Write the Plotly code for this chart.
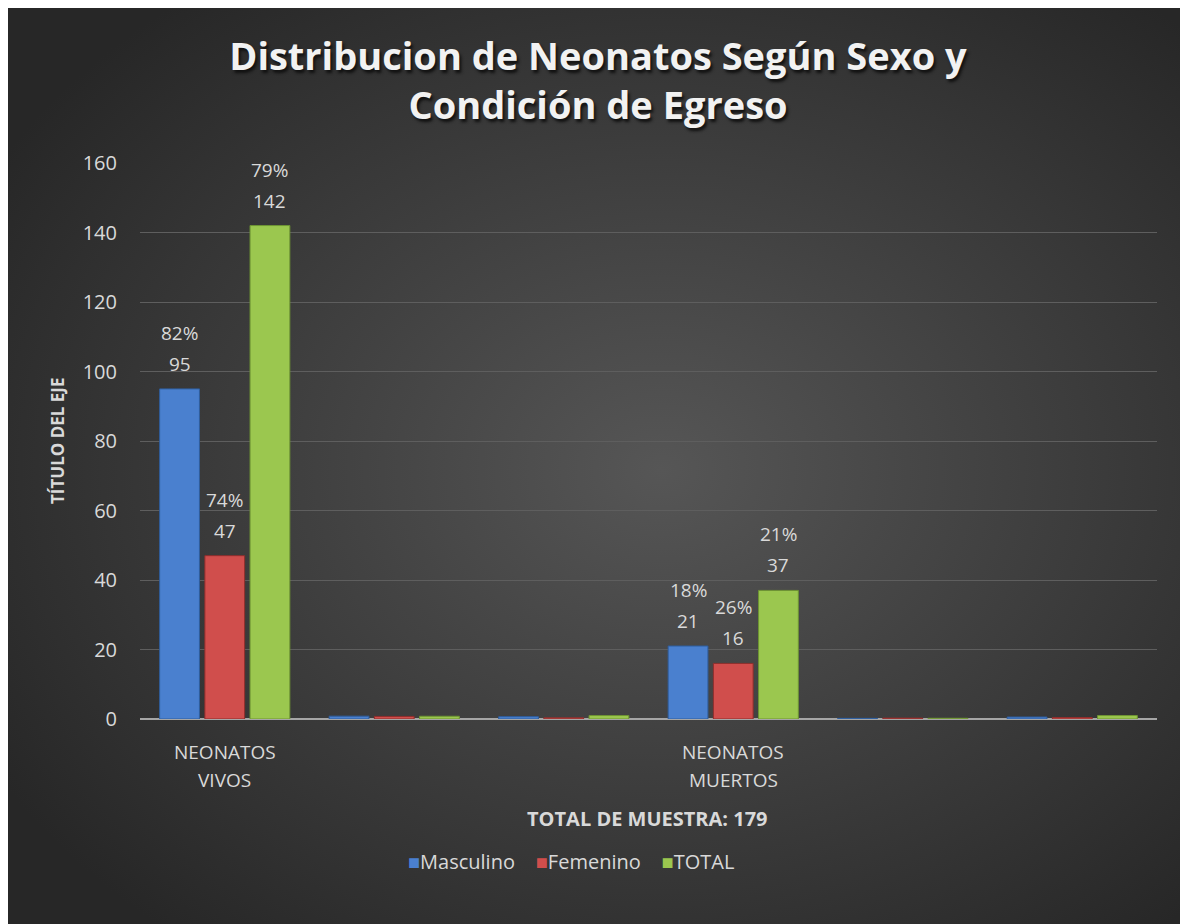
import base64
import plotly.graph_objects as go

# ---- data ----
categories = ["NEONATOS<br>VIVOS", "", "", "NEONATOS<br>MUERTOS", "", ""]
series_names = ["Masculino", "Femenino", "TOTAL"]
masculino = [95, 0.82, 0.67, 21, 0.18, 0.57]
femenino = [47, 0.74, 0.33, 16, 0.26, 0.43]
total = [142, 0.79, 1.0, 37, 0.21, 1.0]
pct_masculino = ["82%", "", "", "18%", "", ""]
pct_femenino = ["74%", "", "", "26%", "", ""]
pct_total = ["79%", "", "", "21%", "", ""]
y_ticks = [0, 20, 40, 60, 80, 100, 120, 140, 160]

title_text = "Distribucion de Neonatos Según Sexo y<br>Condición de Egreso"
y_title = "TÍTULO DEL EJE"
x_title = "TOTAL DE MUESTRA: 179"

# ---- style ----
W, H = 1188, 924
L, R, T, B = 132, 39, 155, 213
pw, ph = W - L - R, H - T - B
colors = ["#4a80cf", "#d04e4c", "#9bc74f"]
edge = ["#2f5e9e", "#8f2e2c", "#6e9433"]
txt = "#d9d9d9"
font = "Open Sans"
bargap, groupgap = 0.2, 0.12

fig = go.Figure()
xs = list(range(len(categories)))
all_vals = [masculino, femenino, total]
all_pcts = [pct_masculino, pct_femenino, pct_total]
for name, vals, c, e in zip(series_names, all_vals, colors, edge):
    fig.add_trace(go.Bar(
        x=xs, y=vals, name=name,
        marker=dict(color=c, line=dict(color=e, width=1)),
        hoverinfo="skip", showlegend=False,
    ))

group_w = 1 - bargap
offsets = [-group_w / 3, 0, group_w / 3]
annotations = []
for s, (vals, pcts) in enumerate(zip(all_vals, all_pcts)):
    for i, (v, p) in enumerate(zip(vals, pcts)):
        if p == "":
            continue
        xpos = i + offsets[s]
        annotations.append(dict(x=xpos, y=v, xref="x", yref="y", text=str(v),
                                showarrow=False, yshift=25, yanchor="middle",
                                font=dict(family=font, size=19, color=txt)))
        annotations.append(dict(x=xpos, y=v, xref="x", yref="y", text=p,
                                showarrow=False, yshift=56, yanchor="middle",
                                font=dict(family=font, size=19, color=txt)))

# category labels (two lines each, Excel-like spacing)
for i, cat in enumerate(categories):
    if not cat:
        continue
    for k, line in enumerate(cat.split("<br>")):
        annotations.append(dict(x=i, y=0, xref="x", yref="paper", text=line,
                                showarrow=False, yshift=-33 - 28 * k,
                                yanchor="middle", xanchor="center",
                                font=dict(family=font, size=19, color=txt)))

annotations.append(dict(text=y_title, textangle=-90, x=-83 / pw, y=0.5,
                        xref="paper", yref="paper", showarrow=False,
                        xanchor="center", yanchor="middle",
                        font=dict(family=font, size=17, color=txt, weight="bold")))
annotations.append(dict(text=x_title, x=(639.5 - L) / pw, y=-99 / ph,
                        xref="paper", yref="paper", showarrow=False,
                        xanchor="center", yanchor="middle",
                        font=dict(family=font, size=20, color=txt, weight="bold")))

# legend drawn as text with coloured square glyphs
legend_text = "&nbsp;&nbsp;&nbsp;&nbsp;".join(
    f"<span style='color:{c}'>■</span>{n}" for n, c in zip(series_names, colors))
annotations.append(dict(text=legend_text, x=(563 - L) / pw, y=-142 / ph,
                        xref="paper", yref="paper", showarrow=False,
                        xanchor="center", yanchor="middle",
                        font=dict(family=font, size=20, color=txt)))

# gradient background via SVG image covering the whole paper
svg = f'''<svg xmlns="http://www.w3.org/2000/svg" width="{W}" height="{H}">
<defs><radialGradient id="g" cx="55%" cy="50%" r="65%">
<stop offset="0%" stop-color="#565656"/><stop offset="100%" stop-color="#272727"/>
</radialGradient></defs><rect x="0" y="0" width="{W}" height="{H}" fill="url(#g)"/></svg>'''
src = "data:image/svg+xml;base64," + base64.b64encode(svg.encode()).decode()
fig.add_layout_image(dict(source=src, xref="paper", yref="paper",
                          x=-L / pw, y=1 + T / ph, sizex=W / pw, sizey=H / ph,
                          sizing="stretch", xanchor="left", yanchor="top",
                          layer="below"))

fig.update_layout(
    width=W, height=H,
    margin=dict(l=L, r=R, t=T, b=B, pad=0),
    paper_bgcolor="#333333", plot_bgcolor="rgba(0,0,0,0)",
    barmode="group", bargap=bargap, bargroupgap=groupgap,
    title=dict(text=title_text, x=590 / W, xanchor="center", y=1 - 62 / H,
               yanchor="middle",
               font=dict(family=font, size=38, color="#f2f2f2", weight="bold",
                         shadow="2px 3px 3px #111111")),
    xaxis=dict(tickvals=xs, ticktext=[""] * len(xs), range=[-0.5, len(categories) - 0.5],
               showgrid=False, zeroline=False, showline=False, ticks=""),
    yaxis=dict(range=[0, 160], tickvals=y_ticks, showgrid=True,
               gridcolor="#5e5e5e", gridwidth=1, zeroline=True,
               zerolinecolor="#a6a6a6", zerolinewidth=2, showline=False,
               ticks="", ticklabelstandoff=22,
               tickfont=dict(family=font, size=20, color=txt)),
    annotations=annotations,
    showlegend=False,
)
fig.write_html("out.html")
